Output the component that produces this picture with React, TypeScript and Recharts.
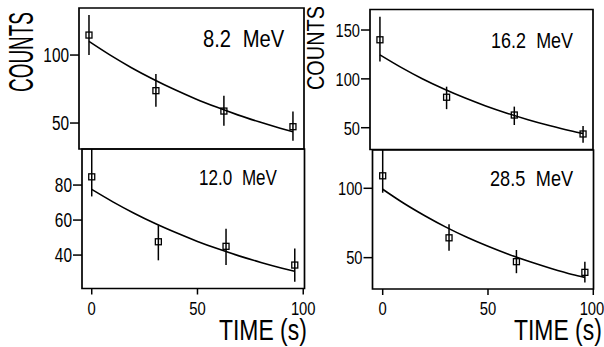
import React from 'react';
import { ComposedChart, XAxis, YAxis, Scatter, Line, ErrorBar, ReferenceArea } from 'recharts';

// ---- data ----
const times = [0, 31.5, 63.5, 96];
const fitTimes = [0, 10, 20, 30, 40, 50, 60, 70, 80, 90, 96];
const xTicks = [0, 50, 100];

const counts82 = [114.7, 73.8, 58.8, 47.3];
const low82 = [100, 62, 48, 37];
const high82 = [129.4, 86, 70, 58.5];
const fit82 = [110, 99.9, 90.7, 82.4, 74.8, 67.9, 61.7, 56.0, 50.9, 46.2, 43.6];
const yTicks82 = [50, 100];

const counts162 = [140, 81.2, 63, 43.6];
const low162 = [117.7, 69, 52.8, 34.7];
const high162 = [163.6, 92, 71.6, 51.8];
const fit162 = [124.6, 111.8, 100.2, 89.9, 80.6, 72.3, 64.9, 58.2, 52.2, 46.8, 44.0];
const yTicks162 = [50, 100, 150];

const counts120 = [84.7, 47.6, 45, 34.3];
const low120 = [73.5, 37, 34.3, 24.7];
const high120 = [100.6, 57, 55, 43.8];
const fit120 = [77.5, 70.4, 63.9, 58.0, 52.7, 47.8, 43.4, 39.4, 35.8, 32.5, 30.7];
const yTicks120 = [40, 60, 80];

const counts285 = [109, 64.3, 47.1, 39.4];
const low285 = [96.8, 55, 38.8, 32];
const high285 = [127.6, 74, 55.5, 47.1];
const fit285 = [99.3, 89.2, 80.2, 72.0, 64.7, 58.2, 52.3, 47.0, 42.2, 37.9, 35.8];
const yTicks285 = [50, 100];

const energyValues = ['8.2', '16.2', '12.0', '28.5'];
const energyUnit = 'MeV';
const yLabel = 'COUNTS';
const xLabel = 'TIME (s)';

// ---- layout ----
const W = 604;
const H = 347;
const FONT = "'Liberation Sans', Arial, sans-serif";
const YW = 40;
const XH = 30;

const buildPoints = (c: number[], lo: number[], hi: number[]) =>
  times.map((t, i) => ({ x: t, y: c[i], err: [c[i] - lo[i], hi[i] - c[i]] }));
const buildFit = (f: number[]) => fitTimes.map((t, i) => ({ x: t, y: f[i] }));

const YTick = (props: any) => {
  const { x, y, payload, fs } = props;
  const yy = y + fs * 0.36;
  return (
    <text
      x={x}
      y={yy}
      textAnchor="end"
      fontSize={fs}
      fontFamily={FONT}
      fill="#000"
      transform={`translate(${x} ${yy}) scale(0.77 1) translate(${-x} ${-yy})`}
    >
      {payload.value}
    </text>
  );
};

const XTick = (props: any) => {
  const { x, y, payload, fs } = props;
  const yy = y + fs * 0.716;
  return (
    <text
      x={x}
      y={yy}
      textAnchor="middle"
      fontSize={fs}
      fontFamily={FONT}
      fill="#000"
      transform={`translate(${x} ${yy}) scale(0.8 1) translate(${-x} ${-yy})`}
    >
      {payload.value}
    </text>
  );
};

const Square = (p: any) => (
  <rect x={p.cx - 3} y={p.cy - 3} width={6} height={6} fill="none" stroke="#000" strokeWidth={1.3} />
);

type PanelProps = {
  pts: any[];
  fit: any[];
  xDomain: [number, number];
  yDomain: [number, number];
  yTicks: number[];
  plot: { left: number; top: number; right: number; bottom: number };
  bottom: boolean;
  yfs: number;
};

const Panel = ({ pts, fit, xDomain, yDomain, yTicks, plot, bottom, yfs }: PanelProps) => {
  const margin = {
    left: plot.left - YW,
    top: plot.top,
    right: W - plot.right,
    bottom: H - plot.bottom - (bottom ? XH : 0),
  };
  return (
    <div style={{ position: 'absolute', left: 0, top: 0 }}>
      <ComposedChart width={W} height={H} margin={margin}>
        <XAxis
          type="number"
          dataKey="x"
          domain={xDomain}
          ticks={xTicks}
          hide={!bottom}
          height={XH}
          axisLine={false}
          tickSize={6}
          tickMargin={7}
          tickLine={{ stroke: '#000', strokeWidth: 1.5 }}
          tick={(p: any) => <XTick {...p} fs={18.5} />}
          allowDataOverflow
        />
        {bottom && (
          <XAxis
            xAxisId="top"
            orientation="top"
            mirror
            type="number"
            dataKey="x"
            domain={xDomain}
            ticks={xTicks}
            height={0}
            axisLine={false}
            tickSize={6}
            tick={false}
            tickLine={{ stroke: '#000', strokeWidth: 1.5 }}
            allowDataOverflow
          />
        )}
        <YAxis
          type="number"
          dataKey="y"
          domain={yDomain}
          ticks={yTicks}
          width={YW}
          axisLine={false}
          tickSize={9}
          tickMargin={1}
          tickLine={{ stroke: '#000', strokeWidth: 1.5 }}
          tick={(p: any) => <YTick {...p} fs={yfs} />}
          allowDataOverflow
        />
        <ReferenceArea
          x1={xDomain[0]}
          x2={xDomain[1]}
          y1={yDomain[0]}
          y2={yDomain[1]}
          fill="none"
          fillOpacity={0}
          stroke="#000"
          strokeWidth={1.7}
          ifOverflow="visible"
        />
        <Line
          data={fit}
          dataKey="y"
          type="monotone"
          stroke="#000"
          strokeWidth={1.6}
          dot={false}
          activeDot={false}
          isAnimationActive={false}
        />
        <Scatter data={pts} dataKey="y" shape={Square} isAnimationActive={false}>
          <ErrorBar dataKey="err" direction="y" width={0} stroke="#000" strokeWidth={1.5} />
        </Scatter>
      </ComposedChart>
    </div>
  );
};

// text with horizontal squeeze (Liberation Sans / Arial advance widths in em)
const Label = ({ x, y, fs, sx, rotate, anchor, children }: any) => (
  <text
    transform={`translate(${x} ${y})${rotate ? ' rotate(-90)' : ''} scale(${sx} 1)`}
    fontSize={fs}
    textAnchor={anchor || 'start'}
  >
    {children}
  </text>
);

const EnergyLabel = ({ x, y, fs, sx, value }: any) => (
  <Label x={x} y={y} fs={fs} sx={sx}>
    {value}
    <tspan dx={fs * 0.3}> {energyUnit}</tspan>
  </Label>
);

export default function App() {
  return (
    <div style={{ position: 'absolute', left: 0, top: 0, width: W, height: H, background: '#fff', overflow: 'hidden' }}>
      <Panel
        pts={buildPoints(counts82, low82, high82)}
        fit={buildFit(fit82)}
        xDomain={[-4.7, 101.2]}
        yDomain={[30.9, 134.6]}
        yTicks={yTicks82}
        plot={{ left: 79, top: 8, right: 304, bottom: 149 }}
        bottom={false}
        yfs={20}
      />
      <Panel
        pts={buildPoints(counts162, low162, high162)}
        fit={buildFit(fit162)}
        xDomain={[-4.7, 100.7]}
        yDomain={[27.7, 171]}
        yTicks={yTicks162}
        plot={{ left: 370, top: 9.5, right: 593, bottom: 149.5 }}
        bottom={false}
        yfs={19}
      />
      <Panel
        pts={buildPoints(counts120, low120, high120)}
        fit={buildFit(fit120)}
        xDomain={[-4.6, 100.6]}
        yDomain={[20.9, 100.6]}
        yTicks={yTicks120}
        plot={{ left: 82, top: 149, right: 304.5, bottom: 288.5 }}
        bottom={true}
        yfs={20}
      />
      <Panel
        pts={buildPoints(counts285, low285, high285)}
        fit={buildFit(fit285)}
        xDomain={[-4.84, 100.1]}
        yDomain={[27.4, 127.6]}
        yTicks={yTicks285}
        plot={{ left: 372.5, top: 150, right: 593.5, bottom: 289 }}
        bottom={true}
        yfs={19}
      />
      <svg width={W} height={H} style={{ position: 'absolute', left: 0, top: 0, pointerEvents: 'none' }}>
        <g fontFamily={FONT} fill="#000">
          {/* COUNTS: 4.222em natural width */}
          <Label x={33} y={52} fs={35} sx={0.541} rotate anchor="middle">{yLabel}</Label>
          <Label x={324} y={48} fs={23.3} sx={0.854} rotate anchor="middle">{yLabel}</Label>
          {/* energy labels */}
          <EnergyLabel x={203} y={47} fs={23.5} sx={0.86} value={energyValues[0]} />
          <EnergyLabel x={491} y={48} fs={22.4} sx={0.8} value={energyValues[1]} />
          <EnergyLabel x={199} y={185} fs={22.4} sx={0.76} value={energyValues[2]} />
          <EnergyLabel x={490} y={186} fs={22.4} sx={0.81} value={energyValues[3]} />
          {/* TIME (s): 3.833em natural width */}
          <Label x={219} y={340} fs={29} sx={0.79}>{xLabel}</Label>
          <Label x={514} y={340} fs={29} sx={0.79}>{xLabel}</Label>
        </g>
      </svg>
    </div>
  );
}
